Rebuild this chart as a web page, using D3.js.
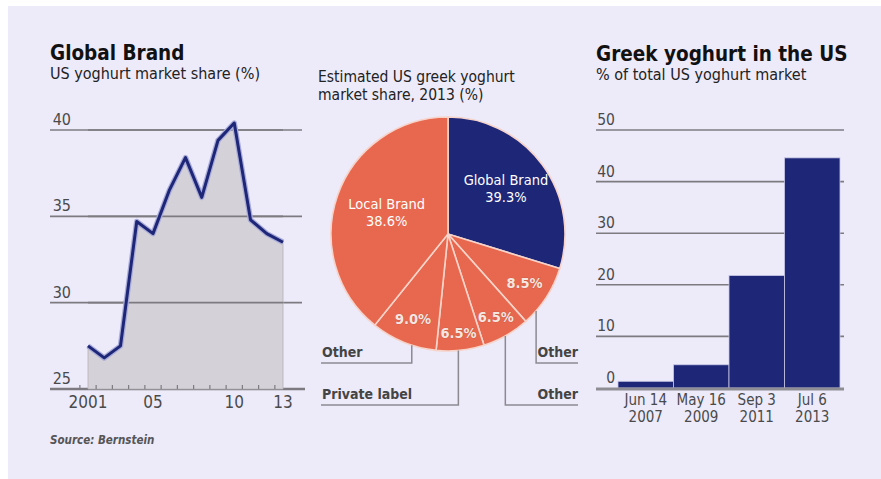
<!DOCTYPE html>
<html>
<head>
<meta charset="utf-8">
<script src="https://cdn.jsdelivr.net/npm/d3@7"></script>
<style>
    body { margin: 0; background: #fff; }
    svg { display: block; }
    text { font-family: "Liberation Sans Narrow", "DejaVu Sans Condensed", "Arial Narrow", sans-serif; }
</style>
</head>
<body>
<div id="chart"></div>
<script>
// left chart: global brand share of US yoghurt market
const years = [2001, 2002, 2003, 2004, 2005, 2006, 2007, 2008, 2009, 2010, 2011, 2012, 2013];
const brandShare = [27.5, 26.8, 27.5, 34.7, 34.0, 36.5, 38.4, 36.1, 39.4, 40.4, 34.8, 34.0, 33.5];
const shareTicks = [25, 30, 35, 40];
const yearLabels = [[2001, "2001"], [2005, "05"], [2010, "10"], [2013, "13"]];

// middle: pie (slice sizes as drawn, labels as printed)
const pieNames = ["Global Brand", "Other", "Other", "Private label", "Other", "Local Brand"];
const pieValues = [29.3, 8.5, 6.5, 6.5, 9.0, 38.6];
const pieLabels = ["39.3%", "8.5%", "6.5%", "6.5%", "9.0%", "38.6%"];

// right chart: greek yoghurt share
const barDates = [["Jun 14", "2007"], ["May 16", "2009"], ["Sep 3", "2011"], ["Jul 6", "2013"]];
const greekShare = [1.3, 4.5, 21.8, 44.6];
const greekTicks = [0, 10, 20, 30, 40, 50];

const W = 881, H = 479;
const grey = "#7d7b80", textGrey = "#4a4a4a";
const navy = "#1e2678", orange = "#e8684f";

const svg = d3.select("#chart").append("svg")
    .attr("width", W)
    .attr("height", H);

svg.append("rect")
    .attr("x", 8).attr("y", 6)
    .attr("width", W - 8).attr("height", H - 6)
    .attr("fill", "#edeafa");

function title(x, y, main, sub, gap) {
    svg.append("text").attr("x", x).attr("y", y)
        .attr("font-size", 20.5).attr("font-weight", "bold").attr("fill", "#111")
        .text(main);
    svg.append("text").attr("x", x).attr("y", y + gap)
        .attr("font-size", 16).attr("fill", "#222")
        .text(sub);
}

// ---------- left: area + line ----------
title(50, 60, "Global Brand", "US yoghurt market share (%)", 19);

let x1 = d3.scaleLinear().domain([2001, 2013]).range([88, 283]);
let y1 = d3.scaleLinear().domain([25, 40]).range([389, 130]);

svg.append("g").selectAll("line")
    .data(shareTicks)
    .enter().append("line")
    .attr("x1", 50).attr("x2", d => d === 25 ? 305 : 302)
    .attr("y1", d => y1(d)).attr("y2", d => y1(d))
    .attr("stroke", grey)
    .attr("stroke-width", d => d === 25 ? 2.5 : 1.6);

svg.append("g").selectAll("text")
    .data(shareTicks)
    .enter().append("text")
    .attr("x", 71).attr("y", d => y1(d) - 5)
    .attr("text-anchor", "end")
    .attr("font-size", 16).attr("fill", textGrey)
    .text(d => d);

let lineData = years.map((yr, i) => [yr, brandShare[i]]);

svg.append("path")
    .datum(lineData)
    .attr("d", d3.area().x(d => x1(d[0])).y0(y1(25)).y1(d => y1(d[1])))
    .attr("fill", "#d5d1d8")
    .attr("stroke", "#b5b1b8")
    .attr("stroke-width", 0.8);

// gridlines show through the area in the original
svg.append("g").selectAll("line")
    .data(shareTicks.filter(d => d > 25))
    .enter().append("line")
    .attr("x1", x1(2001)).attr("x2", x1(2013))
    .attr("y1", d => y1(d)).attr("y2", d => y1(d))
    .attr("stroke", grey).attr("stroke-width", 1.6);

let line = d3.line().x(d => x1(d[0])).y(d => y1(d[1]));
svg.append("path").datum(lineData).attr("d", line)
    .attr("fill", "none").attr("stroke", "#a9acd8").attr("stroke-width", 5.5)
    .attr("stroke-linejoin", "round");
svg.append("path").datum(lineData).attr("d", line)
    .attr("fill", "none").attr("stroke", navy).attr("stroke-width", 3)
    .attr("stroke-linejoin", "round");

// small ticks between years
svg.append("g").selectAll("line")
    .data(d3.range(2000.5, 2013, 1))
    .enter().append("line")
    .attr("x1", d => x1(d)).attr("x2", d => x1(d))
    .attr("y1", y1(25) - 4).attr("y2", y1(25))
    .attr("stroke", grey).attr("stroke-width", 1.2);

svg.append("g").selectAll("text")
    .data(yearLabels)
    .enter().append("text")
    .attr("x", d => x1(d[0])).attr("y", 408)
    .attr("text-anchor", "middle")
    .attr("font-size", 17).attr("fill", textGrey)
    .text(d => d[1]);

svg.append("text")
    .attr("x", 50).attr("y", 444)
    .attr("font-size", 11.5).attr("font-style", "italic").attr("font-weight", "bold")
    .attr("fill", "#555")
    .text("Source: Bernstein");

// ---------- middle: pie ----------
svg.append("text").attr("x", 318).attr("y", 82)
    .attr("font-size", 15.5).attr("fill", "#222").text("Estimated US greek yoghurt");
svg.append("text").attr("x", 318).attr("y", 100)
    .attr("font-size", 15.5).attr("fill", "#222").text("market share, 2013 (%)");

const cx = 448, cy = 234, r = 117;
let pie = d3.pie().sort(null).value(d => d)(pieValues);
let arc = d3.arc().innerRadius(0).outerRadius(r);

let pg = svg.append("g").attr("transform", "translate(" + cx + "," + cy + ")");

pg.selectAll("path")
    .data(pie)
    .enter().append("path")
    .attr("d", arc)
    .attr("fill", (d, i) => i === 0 ? navy : orange)
    .attr("stroke", "#f6d4ca")
    .attr("stroke-width", 1.6);

function polar(a, rad) {
    return [rad * Math.sin(a), -rad * Math.cos(a)];
}

// label radius per slice
const labelR = [72, 91, 96, 100, 92, 65];

pie.forEach((d, i) => {
    let mid = (d.startAngle + d.endAngle) / 2;
    let p = polar(mid, labelR[i]);
    let t = pg.append("text")
        .attr("x", p[0]).attr("y", p[1])
        .attr("text-anchor", "middle")
        .attr("font-size", 14.5).attr("fill", "#fff");
    if (i === 0 || i === 5) {
        t.append("tspan").attr("x", p[0]).attr("dy", i === 0 ? -6 : -3).text(pieNames[i]);
        t.append("tspan").attr("x", p[0]).attr("dy", 17).text(pieLabels[i]);
    } else {
        t.attr("dy", 5)
            .attr("font-weight", "bold")
            .attr("stroke", "#b8503c").attr("stroke-width", 0.6)
            .attr("paint-order", "stroke")
            .attr("fill", "#f7e6e0")
            .text(pieLabels[i]);
    }
});

// callouts for the small slices
const callouts = [
    {slice: 4, t: 0.37, drop: 363, side: -1},
    {slice: 3, t: 0.54, drop: 405, side: -1},
    {slice: 2, t: 0.52, drop: 405, side: 1},
    {slice: 1, t: 0.77, drop: 363, side: 1}
];

callouts.forEach(c => {
    let s = pie[c.slice];
    let a = s.startAngle + c.t * (s.endAngle - s.startAngle);
    let p = polar(a, r);
    let px = cx + p[0], py = cy + p[1];
    let endX = c.side < 0 ? 321 : 578;
    svg.append("polyline")
        .attr("points", [[px, py], [px, c.drop], [endX, c.drop]].map(q => q.join(",")).join(" "))
        .attr("fill", "none").attr("stroke", "#8c8a90").attr("stroke-width", 1.5);
    svg.append("text")
        .attr("x", c.side < 0 ? endX + 1 : endX)
        .attr("y", c.drop - 6)
        .attr("text-anchor", c.side < 0 ? "start" : "end")
        .attr("font-size", 14).attr("font-weight", "bold").attr("fill", "#444")
        .text(pieNames[c.slice]);
});

// ---------- right: bars ----------
title(596, 61, "Greek yoghurt in the US", "% of total US yoghurt market", 19);

let x3 = d3.scaleBand().domain(d3.range(greekShare.length)).range([618, 840]).padding(0);
let y3 = d3.scaleLinear().domain([0, 50]).range([388, 130]);

svg.append("g").selectAll("line")
    .data(greekTicks.filter(d => d > 0))
    .enter().append("line")
    .attr("x1", 596).attr("x2", 844)
    .attr("y1", d => y3(d)).attr("y2", d => y3(d))
    .attr("stroke", grey).attr("stroke-width", 1.6);

svg.append("g").selectAll("text")
    .data(greekTicks)
    .enter().append("text")
    .attr("x", 615).attr("y", d => y3(d) - 5)
    .attr("text-anchor", "end")
    .attr("font-size", 15.5).attr("fill", textGrey)
    .text(d => d);

svg.append("g").selectAll("rect")
    .data(greekShare)
    .enter().append("rect")
    .attr("x", (d, i) => x3(i))
    .attr("y", d => y3(d))
    .attr("width", x3.bandwidth())
    .attr("height", d => y3(0) - y3(d))
    .attr("fill", navy)
    .attr("stroke", "#c9c8e6").attr("stroke-width", 0.8);

svg.append("line")
    .attr("x1", 596).attr("x2", 844)
    .attr("y1", y3(0) + 1).attr("y2", y3(0) + 1)
    .attr("stroke", "#8f8d94").attr("stroke-width", 3);

let xl = svg.append("g").selectAll("text")
    .data(barDates)
    .enter().append("text")
    .attr("text-anchor", "middle")
    .attr("font-size", 15).attr("fill", textGrey);
xl.append("tspan")
    .attr("x", (d, i) => x3(i) + x3.bandwidth() / 2).attr("y", 405)
    .text(d => d[0]);
xl.append("tspan")
    .attr("x", (d, i) => x3(i) + x3.bandwidth() / 2).attr("y", 422)
    .text(d => d[1]);
</script>
</body>
</html>
